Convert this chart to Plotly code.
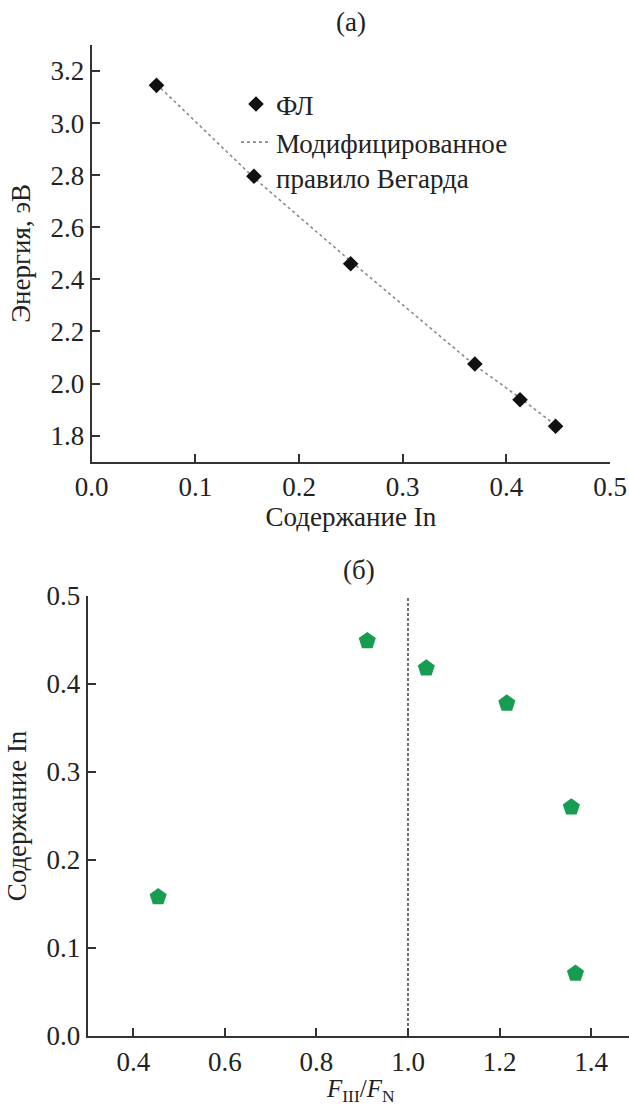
import plotly.graph_objects as go

# ---- data: panel (а) ----
in_content = [0.0625, 0.1565, 0.2498, 0.3696, 0.4132, 0.4475]
pl_energy = [3.145, 2.796, 2.460, 2.075, 1.938, 1.836]
vegard_x = [0.0625, 0.1565, 0.2498, 0.3696, 0.4132, 0.4475]
vegard_y = [3.150, 2.790, 2.470, 2.070, 1.945, 1.840]

# ---- data: panel (б) ----
flux_ratio = [0.454, 0.911, 1.040, 1.216, 1.357, 1.366]
in_content_b = [0.158, 0.449, 0.418, 0.378, 0.260, 0.071]
stoich_x = [1.0, 1.0]
stoich_y = [0.0, 0.5]

W, H = 629, 1105
FONT = "Liberation Serif, DejaVu Serif, serif"
FS = 27
AX = "#333333"
GREEN = "#179d52"

def px_x(p):
    return p / W

def px_y(p):
    return 1 - p / H

fig = go.Figure()

fig.add_trace(go.Scatter(
    x=vegard_x, y=vegard_y, mode="lines", name="Модифицированное<br>правило Вегарда",
    line=dict(color="#8a8a8a", width=1.6, dash="dot"),
    xaxis="x", yaxis="y", legendrank=2,
))
fig.add_trace(go.Scatter(
    x=in_content, y=pl_energy, mode="markers", name="ФЛ",
    marker=dict(symbol="diamond", size=12, color="#111111"),
    xaxis="x", yaxis="y", legendrank=1,
))
fig.add_trace(go.Scatter(
    x=stoich_x, y=stoich_y, mode="lines", showlegend=False,
    line=dict(color="#222222", width=1.3, dash="3px,2px"),
    xaxis="x2", yaxis="y2",
))
fig.add_trace(go.Scatter(
    x=flux_ratio, y=in_content_b, mode="markers", showlegend=False,
    marker=dict(symbol="pentagon", size=18, color=GREEN),
    xaxis="x2", yaxis="y2",
))

axis_common = dict(
    showgrid=False, zeroline=False, showline=True, linecolor=AX, linewidth=2.2,
    ticks="inside", ticklen=8, tickwidth=2, tickcolor=AX,
    tickfont=dict(family=FONT, size=FS, color="#222"),
    automargin=False, mirror=False,
)

fig.update_layout(
    width=W, height=H,
    margin=dict(l=0, r=0, t=0, b=0),
    paper_bgcolor="white", plot_bgcolor="white",
    font=dict(family=FONT, size=FS, color="#222"),
    xaxis=dict(
        **axis_common, domain=[px_x(91.7), px_x(610)], range=[0, 0.5],
        tickvals=[0, 0.1, 0.2, 0.3, 0.4, 0.5], tickformat=".1f",
        title=dict(text="Содержание In", font=dict(family=FONT, size=FS), standoff=6),
        anchor="y",
    ),
    yaxis=dict(
        **axis_common, domain=[px_y(461.7), px_y(45)], range=[1.7, 3.3],
        tickvals=[1.8, 2.0, 2.2, 2.4, 2.6, 2.8, 3.0, 3.2], tickformat=".1f",
        title=dict(text="Энергия, эВ", font=dict(family=FONT, size=FS), standoff=12),
        anchor="x",
    ),
    xaxis2=dict(
        **axis_common, domain=[px_x(87.7), 1.0], range=[0.3, 1.483],
        tickvals=[0.4, 0.6, 0.8, 1.0, 1.2, 1.4], tickformat=".1f",
        anchor="y2",
    ),
    yaxis2=dict(
        **axis_common, domain=[px_y(1036), px_y(596)], range=[0, 0.5],
        tickvals=[0, 0.1, 0.2, 0.3, 0.4, 0.5], tickformat=".1f",
        title=dict(text="Содержание In", font=dict(family=FONT, size=FS), standoff=12),
        anchor="x2",
    ),
    legend=dict(
        x=px_x(236), y=px_y(80), xanchor="left", yanchor="top",
        bgcolor="rgba(0,0,0,0)", font=dict(family=FONT, size=FS, color="#222"),
        valign="top", tracegroupgap=0, itemwidth=30,
    ),
    showlegend=True,
    annotations=[
        dict(text="(а)", x=px_x(351), y=px_y(22), xref="paper", yref="paper",
             xanchor="center", yanchor="middle",
             showarrow=False, font=dict(family=FONT, size=FS, color="#222")),
        dict(text="(б)", x=px_x(359), y=px_y(570), xref="paper", yref="paper",
             xanchor="center", yanchor="middle",
             showarrow=False, font=dict(family=FONT, size=FS, color="#222")),
        dict(text="<i>F</i><sub>III</sub>/<i>F</i><sub>N</sub>",
             x=px_x(360), y=0, xref="paper", yref="paper",
             xanchor="center", yanchor="bottom", yshift=-3,
             showarrow=False, font=dict(family=FONT, size=25, color="#222")),
    ],
)

fig.write_html("out.html", config={"displayModeBar": False})
